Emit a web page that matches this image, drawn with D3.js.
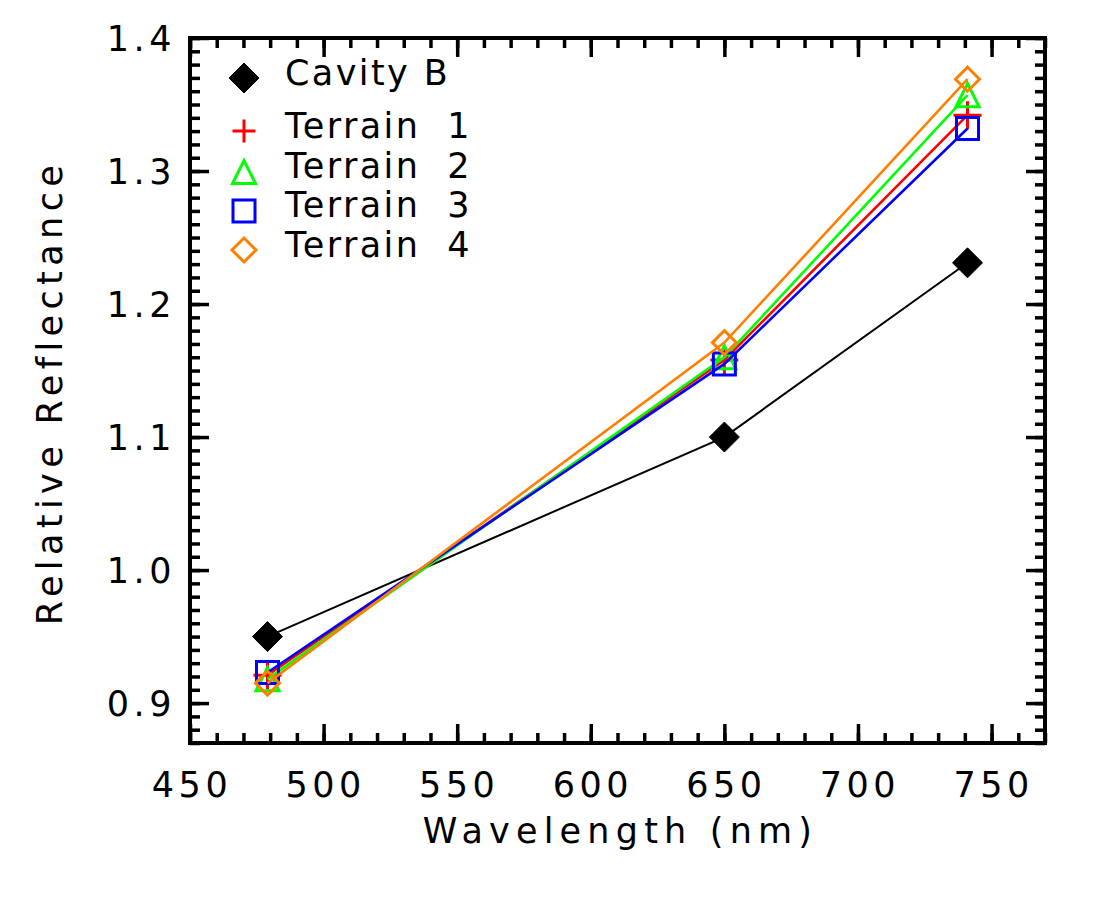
<!DOCTYPE html>
<html>
<head>
<meta charset="utf-8">
<script src="https://cdn.jsdelivr.net/npm/d3@7"></script>
<style>
  body { margin: 0; background: #fff; }
  svg text { font-family: "DejaVu Sans", sans-serif; font-size: 35px; letter-spacing: 4.5px; fill: #000; }
  svg text.legend { letter-spacing: 2.4px; }
  svg text.title { letter-spacing: 6.2px; }
</style>
</head>
<body>
<div id="chart"></div>
<script>
// data
const wavelengths = [479, 650, 741];
const cavityB  = [0.950, 1.100, 1.231];
const terrain1 = [0.921, 1.158, 1.342];
const terrain2 = [0.918, 1.160, 1.357];
const terrain3 = [0.923, 1.155, 1.332];
const terrain4 = [0.915, 1.171, 1.369];

const seriesNames  = ["Cavity B", "Terrain  1", "Terrain  2", "Terrain  3", "Terrain  4"];
const seriesValues = [cavityB, terrain1, terrain2, terrain3, terrain4];
const seriesColors = ["#000000", "#ff0000", "#00ff00", "#0000ff", "#ff8000"];
const seriesSymbols = ["diamondFilled", "plus", "triangle", "square", "diamond"];

const xTicks = [450, 500, 550, 600, 650, 700, 750];
const yTicks = [0.9, 1.0, 1.1, 1.2, 1.3, 1.4];

const width = 1100;
const height = 900;
const margin = { top: 38, right: 55, bottom: 157, left: 190 };

const svg = d3.select("#chart").append("svg")
  .attr("width", width)
  .attr("height", height);

const x = d3.scaleLinear().domain([450, 770]).range([margin.left, width - margin.right]);
const y = d3.scaleLinear().domain([0.87, 1.4]).range([height - margin.bottom, margin.top]);

const minorX = d3.range(450, 771, 10);
const minorY = d3.range(87, 141, 1).map(v => v / 100);

// ticks on all four sides, pointing inward
function tickAxis(axisFn, scale, values, size, transform) {
  const g = svg.append("g")
    .attr("transform", transform)
    .call(axisFn(scale).tickValues(values).tickSize(-size).tickFormat(""));
  g.select(".domain").remove();
  g.selectAll(".tick line").attr("stroke", "#000").attr("stroke-width", 3.5);
  return g;
}
const bottomT = `translate(0,${y.range()[0]})`;
const topT = `translate(0,${y.range()[1]})`;
const leftT = `translate(${x.range()[0]},0)`;
const rightT = `translate(${x.range()[1]},0)`;

tickAxis(d3.axisBottom, x, minorX, 10, bottomT);
tickAxis(d3.axisBottom, x, xTicks, 19, bottomT);
tickAxis(d3.axisTop, x, minorX, 10, topT);
tickAxis(d3.axisTop, x, xTicks, 19, topT);
tickAxis(d3.axisLeft, y, minorY, 10, leftT);
tickAxis(d3.axisLeft, y, yTicks, 19, leftT);
tickAxis(d3.axisRight, y, minorY, 10, rightT);
tickAxis(d3.axisRight, y, yTicks, 19, rightT);

// frame
svg.append("rect")
  .attr("x", x.range()[0])
  .attr("y", y.range()[1])
  .attr("width", x.range()[1] - x.range()[0])
  .attr("height", y.range()[0] - y.range()[1])
  .attr("fill", "none")
  .attr("stroke", "#000")
  .attr("stroke-width", 4);

// tick labels
svg.selectAll(".xlab")
  .data(xTicks)
  .enter().append("text")
  .attr("x", d => x(d) + 2)
  .attr("y", 797)
  .attr("text-anchor", "middle")
  .text(d => d);

svg.selectAll(".ylab")
  .data(yTicks)
  .enter().append("text")
  .attr("x", 176)
  .attr("y", d => y(d) + 13)
  .attr("text-anchor", "end")
  .text(d => d3.format(".1f")(d));

// axis titles
svg.append("text")
  .attr("class", "title")
  .attr("x", (x.range()[0] + x.range()[1]) / 2 + 3)
  .attr("y", 843)
  .attr("text-anchor", "middle")
  .text("Wavelength (nm)");

svg.append("text")
  .attr("class", "title")
  .attr("transform", `translate(62,${(y.range()[0] + y.range()[1]) / 2 + 2}) rotate(-90)`)
  .attr("text-anchor", "middle")
  .style("letter-spacing", "5.4px")
  .text("Relative Reflectance");

// symbol paths
function symbolPath(type, r) {
  switch (type) {
    case "diamondFilled":
    case "diamond":
      return `M0,${-r}L${r},0L0,${r}L${-r},0Z`;
    case "plus":
      return `M${-r},0H${r}M0,${-r}V${r}`;
    case "triangle":
      return `M${-r},${r}L0,${-r}L${r},${r}Z`;
    case "square":
      return `M${-r},${-r}H${r}V${r}H${-r}Z`;
  }
}
const dataSize = { diamondFilled: 15, plus: 14, triangle: 11.5, square: 11, diamond: 12 };
const legendSize = { diamondFilled: 15, plus: 11.5, triangle: 11.5, square: 11, diamond: 12 };

const line = d3.line().x(d => x(d[0])).y(d => y(d[1]));

seriesValues.forEach((vals, i) => {
  const pts = wavelengths.map((w, j) => [w, vals[j]]);
  const color = seriesColors[i];
  const sym = seriesSymbols[i];
  svg.append("path")
    .attr("d", line(pts))
    .attr("fill", "none")
    .attr("stroke", color)
    .attr("stroke-width", i === 0 ? 2 : 2.6);
  svg.selectAll(null)
    .data(pts)
    .enter().append("path")
    .attr("transform", d => `translate(${x(d[0])},${y(d[1])})`)
    .attr("d", symbolPath(sym, dataSize[sym]))
    .attr("fill", sym === "diamondFilled" ? color : "none")
    .attr("stroke", color)
    .attr("stroke-width", sym === "diamondFilled" ? 1 : 3);
});

// legend
const legendSymY = [78, 131, 172, 211, 250];
const legendTextY = [85, 138, 178, 217, 257];
seriesNames.forEach((name, i) => {
  const sym = seriesSymbols[i];
  svg.append("path")
    .attr("transform", `translate(244,${legendSymY[i]})`)
    .attr("d", symbolPath(sym, legendSize[sym]))
    .attr("fill", sym === "diamondFilled" ? seriesColors[i] : "none")
    .attr("stroke", seriesColors[i])
    .attr("stroke-width", sym === "diamondFilled" ? 1 : 3);
  svg.append("text")
    .attr("class", "legend")
    .attr("x", 285)
    .attr("y", legendTextY[i])
    .attr("xml:space", "preserve")
    .style("white-space", "pre")
    .text(name);
});
</script>
</body>
</html>
